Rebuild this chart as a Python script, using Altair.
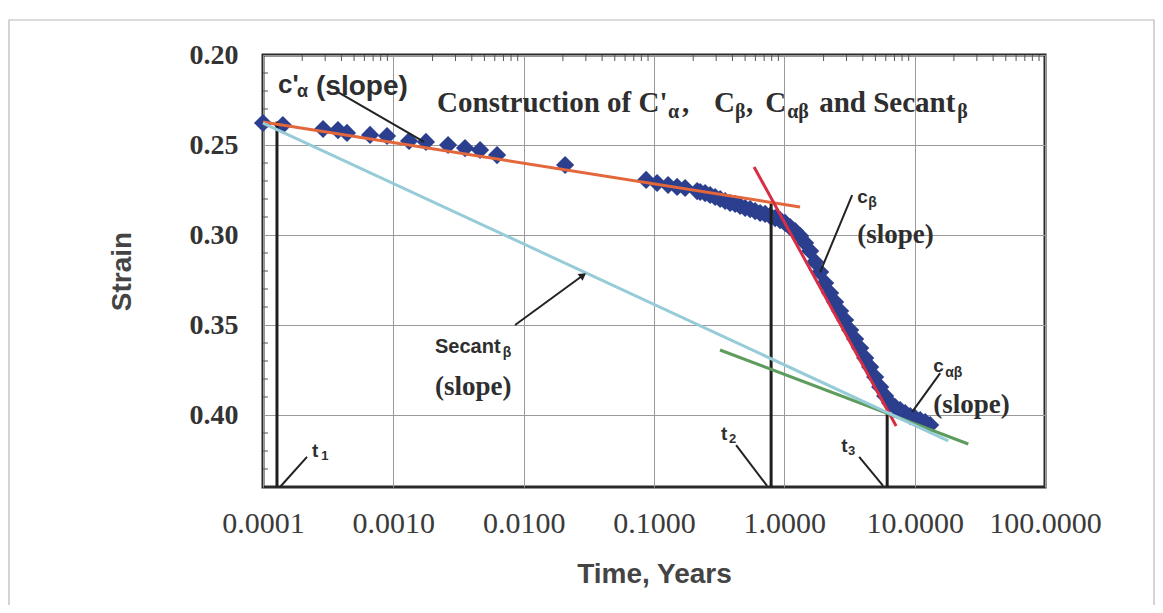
import altair as alt
import pandas as pd

# ---------------- measured data (blue diamonds) ----------------
time_years = [
    0.0001, 0.000142, 0.000289, 0.000376, 0.000441, 0.000663, 0.000895, 0.00132,
    0.00178, 0.00263, 0.00355, 0.00463, 0.00625, 0.0208,
    0.0870, 0.1056, 0.1283, 0.1504, 0.1733, 0.2142,
    0.2259, 0.2467, 0.2695, 0.2944, 0.3216, 0.3513, 0.3837, 0.4192, 0.4579, 0.5002,
    0.5464, 0.5969, 0.6521, 0.7123, 0.7781, 0.8500, 0.9285, 1.014, 1.108, 1.210,
    1.322, 1.444, 1.578, 1.723, 1.883, 2.057, 2.247, 2.454, 2.681, 2.929,
    3.199, 3.495, 3.818, 4.171, 4.556, 4.977, 5.436, 5.938, 6.486, 7.086,
    7.740, 8.455, 9.236, 10.09, 11.02, 12.04, 13.15,
]
strain_vals = [
    0.2378, 0.2389, 0.2411, 0.2417, 0.2433, 0.2444, 0.2450, 0.2478,
    0.2483, 0.2500, 0.2517, 0.2528, 0.2556, 0.2611,
    0.2694, 0.2711, 0.2722, 0.2733, 0.2739, 0.2756,
    0.2761, 0.2767, 0.2778, 0.2789, 0.2800, 0.2811, 0.2822, 0.2828, 0.2839, 0.2850,
    0.2856, 0.2867, 0.2878, 0.2883, 0.2894, 0.2906, 0.2917, 0.2933, 0.2956, 0.2978,
    0.3006, 0.3044, 0.3089, 0.3150, 0.3206, 0.3267, 0.3322, 0.3372, 0.3422, 0.3472,
    0.3528, 0.3578, 0.3628, 0.3683, 0.3733, 0.3789, 0.3844, 0.3894, 0.3933, 0.3956,
    0.3972, 0.3989, 0.4006, 0.4017, 0.4028, 0.4039, 0.4056,
]

# ---------------- construction lines (start / end) ----------------
fit_names = ["C'α", "Cβ", "Cαβ", "Secantβ"]
fit_t0 = [0.0001, 0.586, 0.321, 0.0001]
fit_s0 = [0.2372, 0.2622, 0.3639, 0.2378]
fit_t1 = [1.32, 7.21, 25.8, 18.1]
fit_s1 = [0.2844, 0.4061, 0.4161, 0.4144]
fit_colors = ["#e3673b", "#d62f45", "#5e9c5e", "#96cbd8"]

# ---------------- t1, t2, t3 markers ----------------
mark_t = [0.000128, 0.7917, 6.151]
mark_top = [0.2370, 0.2822, 0.3989]
mark_bottom = [0.44, 0.44, 0.44]

# ---------------- leader lines ----------------
lead_t0 = [0.000376, 3.314, 15.70, 0.00859, 0.0002177, 0.4267, 3.751]
lead_s0 = [0.2206, 0.2778, 0.3767, 0.3500, 0.4233, 0.4167, 0.4233]
lead_t1 = [0.00172, 1.883, 9.568, 0.02806, 0.0001351, 0.7379, 5.731]
lead_s1 = [0.2483, 0.3206, 0.3983, 0.3228, 0.4400, 0.4394, 0.4394]
arrow_t = [0.02806]
arrow_s = [0.3228]

# ---------------- minor tick positions on the frame ----------------
minor_x_ticks = [m * 10.0 ** e for e in range(-4, 2) for m in range(2, 10)]
minor_y_ticks = [0.21, 0.22, 0.23, 0.24, 0.26, 0.27, 0.28, 0.29, 0.31, 0.32, 0.33,
                 0.34, 0.36, 0.37, 0.38, 0.39, 0.41, 0.42, 0.43]

# ---------------- annotation text pieces ----------------
ann_text = [
    "Construction of C'", "α", ",", "C", "β", ",", "C", "αβ", "and Secant", "β",
    "c'", "α", "(slope)",
    "c", "β", "(slope)",
    "c", "αβ", "(slope)",
    "Secant", "β", "(slope)",
    "t", "1", "t", "2", "t", "3",
]
ann_t = [
    0.002165, 0.1283, 0.1640, 0.2892, 0.4192, 0.5088, 0.7123, 1.051, 1.850, 21.19,
    0.0001303, 0.0001824, 0.0002551,
    3.621, 4.397, 3.621,
    13.87, 17.14, 13.87,
    0.002089, 0.006900, 0.002089,
    0.0002377, 0.0002800, 0.3273, 0.3760, 2.730, 3.080,
]
ann_s = [
    0.2317, 0.2350, 0.2317, 0.2317, 0.2350, 0.2317, 0.2317, 0.2350, 0.2317, 0.2350,
    0.2211, 0.2233, 0.2222,
    0.2822, 0.2844, 0.3044,
    0.3761, 0.3789, 0.3989,
    0.3656, 0.3678, 0.3889,
    0.4233, 0.4250, 0.4139, 0.4156, 0.4206, 0.4222,
]
ann_role = [
    "title", "title_sub", "title", "title", "title_sub", "title", "title", "title_sub", "title", "title_sub",
    "ca_main", "ca_sub", "ca_slope",
    "c", "c_sub", "slope_serif",
    "c", "c_sub", "slope_serif",
    "secant", "c_sub", "slope_serif",
    "t", "t_sub", "t", "t_sub", "t", "t_sub",
]

x_ticks = [0.0001, 0.001, 0.01, 0.1, 1, 10, 100]
y_ticks = [0.20, 0.25, 0.30, 0.35, 0.40]

# ---------------- styles ----------------
role_style = {
    "title": ("Liberation Serif", 29),
    "title_sub": ("Liberation Serif", 20),
    "slope_serif": ("Liberation Serif", 27),
    "ca_main": ("Liberation Sans", 26),
    "ca_sub": ("Liberation Sans", 18),
    "ca_slope": ("Liberation Sans", 28),
    "c": ("Liberation Sans", 19),
    "c_sub": ("Liberation Sans", 14),
    "secant": ("Liberation Sans", 20),
    "t": ("Liberation Sans", 19),
    "t_sub": ("Liberation Sans", 13),
}

xscale = alt.Scale(type="log", domain=[0.0001, 100], nice=False)
yscale = alt.Scale(domain=[0.20, 0.44], reverse=True, nice=False, zero=False)

xaxis = alt.Axis(
    values=x_ticks, format=".4f", title="Time, Years",
    labelFont="Liberation Serif", labelFontSize=30, labelColor="#3a3a3a",
    labelFlush=False, labelOverlap=False, labelPadding=21,
    titleFont="Liberation Sans", titleFontSize=28, titleFontWeight="bold",
    titleColor="#444444", titlePadding=22,
    ticks=False, tickSize=0, domain=False,
    grid=True, gridColor="#9a9a9a", gridWidth=1,
)
yaxis = alt.Axis(
    values=y_ticks, format=".2f", title="Strain",
    labelFont="Liberation Serif", labelFontSize=28, labelFontWeight="bold",
    labelColor="#333333", labelPadding=25,
    titleFont="Liberation Sans", titleFontSize=28, titleFontWeight="bold",
    titleColor="#444444", titlePadding=53,
    ticks=False, tickSize=0, domain=False,
    grid=True, gridColor="#9a9a9a", gridWidth=1,
)


def X(field):
    return alt.X(field, scale=xscale, axis=xaxis, title="Time, Years")


def Y(field):
    return alt.Y(field, scale=yscale, axis=yaxis, title="Strain")


pts = pd.DataFrame({"t": time_years, "strain": strain_vals})
fits = pd.DataFrame({"name": fit_names, "t0": fit_t0, "s0": fit_s0, "t1": fit_t1, "s1": fit_s1})
marks = pd.DataFrame({"t": mark_t, "s0": mark_top, "s1": mark_bottom})
leads = pd.DataFrame({"t0": lead_t0, "s0": lead_s0, "t1": lead_t1, "s1": lead_s1})
arrow = pd.DataFrame({"t": arrow_t, "strain": arrow_s})
ann = pd.DataFrame({"t": ann_t, "strain": ann_s, "label": ann_text, "role": ann_role})
mx = pd.DataFrame({"t": minor_x_ticks})
my = pd.DataFrame({"strain": minor_y_ticks})

diamonds = alt.Chart(pts).mark_point(
    shape="diamond", filled=True, size=330, color="#2b3f8e", opacity=1
).encode(x=X("t:Q"), y=Y("strain:Q"))

frame = alt.Chart(pd.DataFrame({"k": [0]})).mark_rect(
    filled=False, stroke="#b8b8b8", strokeWidth=1.2
).encode(x=alt.value(-254), x2=alt.value(891), y=alt.value(-35), y2=alt.value(600))

top_minor = alt.Chart(mx).mark_rule(color="#555555", strokeWidth=1).encode(
    x=X("t:Q"), y=alt.value(0), y2=alt.value(6)
)
left_minor = alt.Chart(my).mark_rule(color="#555555", strokeWidth=1).encode(
    y=Y("strain:Q"), x=alt.value(0), x2=alt.value(5)
)

vlines = alt.Chart(marks).mark_rule(color="#1e1e1e", strokeWidth=3).encode(
    x=X("t:Q"), y=Y("s0:Q"), y2="s1:Q",
)

fit_lines = alt.Chart(fits).mark_rule(strokeWidth=3).encode(
    x=X("t0:Q"), x2="t1:Q", y=Y("s0:Q"), y2="s1:Q",
    color=alt.Color("name:N", scale=alt.Scale(domain=fit_names, range=fit_colors), legend=None),
)

leader_lines = alt.Chart(leads).mark_rule(color="#222222", strokeWidth=2).encode(
    x=X("t0:Q"), x2="t1:Q", y=Y("s0:Q"), y2="s1:Q",
)

arrow_head = alt.Chart(arrow).mark_point(
    shape="triangle", filled=True, size=70, angle=54, color="#222222", opacity=1
).encode(x=X("t:Q"), y=Y("strain:Q"))

text_layers = []
for role, (font, fsize) in role_style.items():
    sub = ann[ann["role"] == role]
    text_layers.append(
        alt.Chart(sub).mark_text(
            align="left", baseline="alphabetic", font=font, fontSize=fsize,
            fontWeight="bold", color="#2e2e2e"
        ).encode(x=X("t:Q"), y=Y("strain:Q"), text="label:N")
    )

chart = alt.layer(
    diamonds, frame, top_minor, left_minor, vlines, fit_lines, leader_lines,
    arrow_head, *text_layers
).properties(
    width=782, height=432,
    autosize=alt.AutoSizeParams(type="none"),
    padding={"left": 255, "top": 47, "right": 110, "bottom": 118},
    background="white",
).configure_view(
    stroke="#2a2a2a", strokeWidth=3
)

chart.save("out.html", embed_options={"renderer": "svg", "actions": False})
